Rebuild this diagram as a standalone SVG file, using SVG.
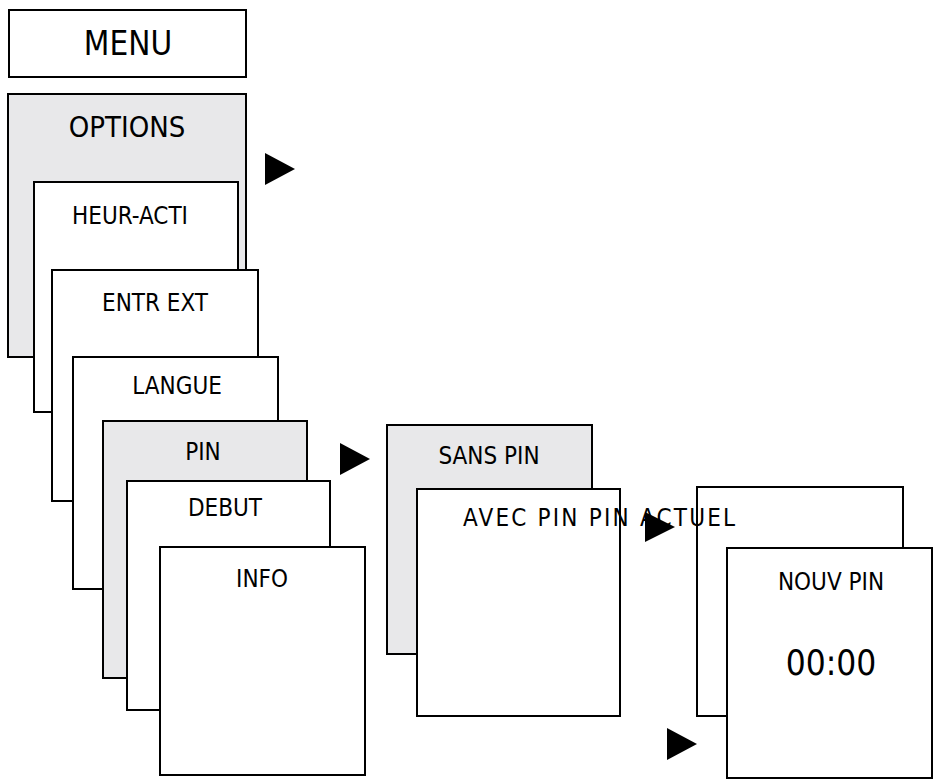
<svg xmlns="http://www.w3.org/2000/svg" width="937" height="781" viewBox="0 0 937 781">
<style>
.b{fill:#fff;stroke:#000;stroke-width:2}
.g{fill:#e8e8ea;stroke:#000;stroke-width:2}
text{font-family:"DejaVu Sans Condensed","DejaVu Sans",sans-serif;font-size:24px;fill:#000;text-anchor:middle}
.a{fill:#000}
</style>
<rect width="937" height="781" fill="#fff"/>
<g id="menu"><rect class="b" x="9" y="10" width="237" height="67"/><text x="128" y="55" style="font-size:33px">MENU</text></g>
<g id="options"><rect class="g" x="8" y="94" width="238" height="263"/><text x="127" y="137" style="font-size:29px">OPTIONS</text></g>
<g id="heur"><rect class="b" x="34" y="182" width="204" height="230"/><text x="130" y="224">HEUR-ACTI</text></g>
<g id="entr"><rect class="b" x="52" y="270" width="206" height="231"/><text x="155" y="311">ENTR EXT</text></g>
<g id="langue"><rect class="b" x="73" y="357" width="205" height="232"/><text x="177" y="394">LANGUE</text></g>
<g id="pin"><rect class="g" x="103" y="421" width="204" height="257"/><text x="203" y="460">PIN</text></g>
<g id="debut"><rect class="b" x="127" y="481" width="203" height="229"/><text x="225" y="516">DEBUT</text></g>
<g id="info"><rect class="b" x="160" y="547" width="205" height="228"/><text x="262" y="587">INFO</text></g>
<g id="sanspin"><rect class="g" x="387" y="425" width="205" height="229"/><text x="489" y="464">SANS PIN</text></g>
<g id="actuel"><rect class="b" x="697" y="487" width="206" height="229"/></g>
<g id="avecpin"><rect class="b" x="417" y="489" width="203" height="227"/><text x="463" y="526" style="text-anchor:start" textLength="272">AVEC PIN PIN ACTUEL</text></g>
<g id="nouvpin"><rect class="b" x="727" y="548" width="205" height="230"/><text x="831" y="590">NOUV PIN</text><text x="831" y="675" style="font-size:35px">00:00</text></g>
<g id="connectors">
<polygon class="a" points="265,153 295,169 265,185"/>
<polygon class="a" points="340,443 370,459 340,475"/>
<polygon class="a" points="645,512 675,527 645,542"/>
<polygon class="a" points="667,728 697,744 667,760"/>
</g>
</svg>
